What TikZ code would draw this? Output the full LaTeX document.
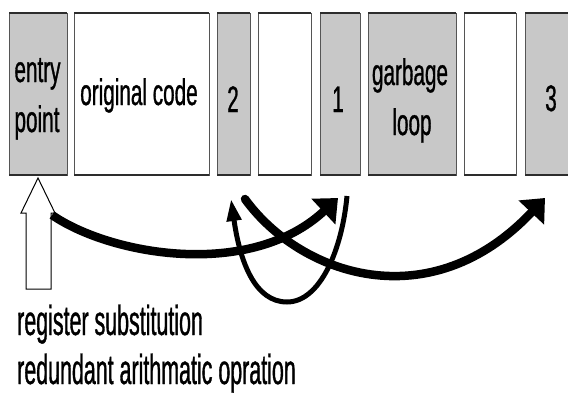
\documentclass[tikz,border=0pt]{standalone}
\usepackage{fontspec}
\newfontfamily\boxfont[FakeStretch=0.56,FakeBold=0.8]{Liberation Sans}
\newfontfamily\lblfont[FakeStretch=0.51,FakeBold=0.8]{Liberation Sans}
\usetikzlibrary{arrows.meta}
\definecolor{boxgray}{RGB}{200,200,200}
\definecolor{edgegray}{RGB}{85,85,85}
\definecolor{rimdark}{RGB}{45,45,45}
\tikzset{
  cell/.style={draw=edgegray, line width=1pt, anchor=north west, minimum height=162pt, inner sep=0pt, outer sep=0pt},
  graycell/.style={cell, fill=boxgray},
  whitecell/.style={cell, fill=white},
  rim/.style={draw=rimdark, line width=2pt},
  celltext/.style={anchor=base, inner sep=0pt, font=\boxfont\fontsize{37}{44}\selectfont},
  lbltext/.style={anchor=base west, inner sep=0pt, font=\lblfont\fontsize{42}{50}\selectfont},
  bigarrow/.style={line width=8.5pt, -{Triangle[length=20pt,width=34pt]}},
  looparrow/.style={line width=5pt, -{Triangle[length=22pt,width=14pt]}},
  hollow/.style={draw=black, line width=1pt, fill=white, line join=miter},
}
\begin{document}
\begin{tikzpicture}[x=1pt,y=-1pt]
\clip (0,0) rectangle (568,394);
\fill[white] (0,0) rectangle (568,394);

% cells
\node[graycell,  minimum width=58pt] (entry) at (9,13) {};
\node[whitecell, minimum width=135pt] (orig) at (74,13) {};
\node[graycell,  minimum width=33pt] (two) at (217,13) {};
\node[whitecell, minimum width=53pt] (blankA) at (258,13) {};
\node[graycell,  minimum width=40pt] (one) at (320,13) {};
\node[graycell,  minimum width=88pt] (garb) at (368,13) {};
\node[whitecell, minimum width=52pt] (blankB) at (464,13) {};
\node[graycell,  minimum width=60pt] (three) at (525,13) {};
\foreach \c in {entry,orig,two,blankA,one,garb,blankB,three}{
  \draw[rim] (\c.north west) -- (\c.north east);
  \draw[rim] (\c.south west) -- (\c.south east);
}

% cell texts
\node[celltext] (tEntry) at (37.5,82) {entry};
\node[celltext] (tPoint) at (37,132) {point};
\node[celltext] (tOrig) at (139,105) {original code};
\node[celltext] (tTwo) at (233,112) {2};
\node[celltext] (tOne) at (338,112) {1};
\node[celltext] (tGarb) at (410,85) {garbage};
\node[celltext] (tLoop) at (412,135) {loop};
\node[celltext] (tThree) at (551,111) {3};

% hollow up arrow
\draw[hollow] (26,289) -- (26,213) -- (21,213) -- (38,178) -- (55,213) -- (51,213) -- (51,289) -- cycle;

% curve endpoints
\coordinate (aS) at (52,215);
\coordinate (aE) at (338,198);
\coordinate (bS) at (245,199);
\coordinate (bE) at (545,198);
\coordinate (cS) at (347,196);
\coordinate (cM) at (287,302);
\coordinate (cE) at (231,199);

\draw[bigarrow] (aS) .. controls (110,255) and (250,280) .. (aE);
\draw[bigarrow, line cap=round] (bS) .. controls (300,275) and (430,320) .. (bE);
\draw[looparrow] (cS) .. controls (342,250) and (320,302) .. (cM)
                      .. controls (255,302) and (240,262) .. (cE);

% labels
\node[lbltext] (l1) at (17,335) {register substitution};
\node[lbltext] (l2) at (17,384) {redundant arithmatic opration};
\end{tikzpicture}
\end{document}
